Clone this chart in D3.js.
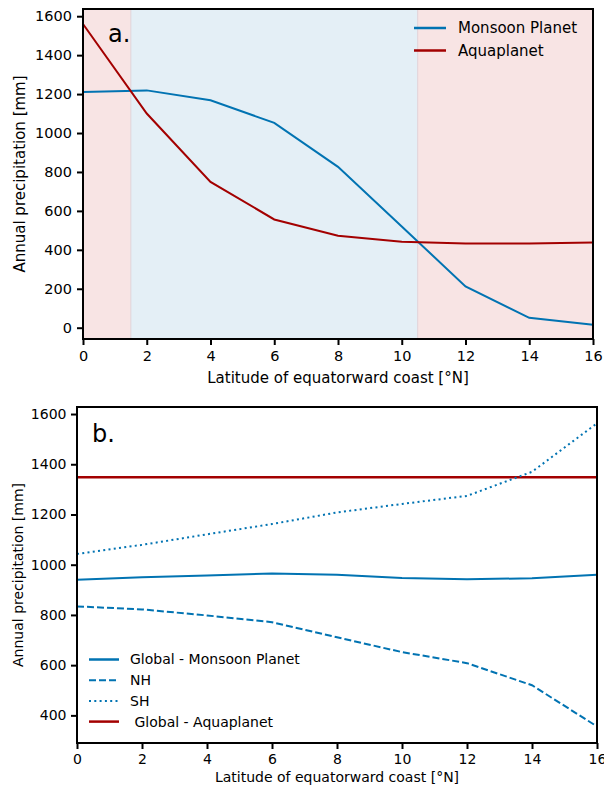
<!DOCTYPE html>
<html>
<head>
<meta charset="utf-8">
<script src="https://cdn.jsdelivr.net/npm/d3@7"></script>
<style>
  html, body { margin: 0; padding: 0; background: #fff; }
  svg { display: block; font-family: "DejaVu Sans", sans-serif; }
</style>
</head>
<body>
<svg id="chart" width="604" height="788"></svg>
<script>
// Latitude of the equatorward coast [°N]
const latitude = [0, 2, 4, 6, 8, 10, 12, 14, 16];
const xTicks = [0, 2, 4, 6, 8, 10, 12, 14, 16];

// Panel a: regional annual precipitation [mm]
const monsoonRegional = [1211, 1219, 1168, 1052, 826, 520, 212, 51, 15];
const aquaRegional = [1560, 1100, 749, 556, 472, 442, 433, 433, 438];
const yTicksA = [0, 200, 400, 600, 800, 1000, 1200, 1400, 1600];
// Shaded latitude bands
const landBand = [1.5, 10.5];

// Panel b: global and hemispheric annual precipitation [mm]
const monsoonGlobal = [940, 950, 957, 965, 960, 947, 942, 946, 960];
const monsoonNH = [834, 822, 798, 771, 711, 652, 608, 520, 356];
const monsoonSH = [1043, 1079, 1121, 1162, 1208, 1242, 1274, 1370, 1563];
const aquaGlobal = [1348, 1348, 1348, 1348, 1348, 1348, 1348, 1348, 1348];
const yTicksB = [400, 600, 800, 1000, 1200, 1400, 1600];

const BLUE = "#0173b2";
const RED = "#a30000";
const BLUE_SHADE = "#e4eff6";
const RED_SHADE = "#f8e4e4";

const svg = d3.select("#chart");

function drawAxes(g, x, y, yTicks, o) {
  const xAxis = g.append("g")
    .attr("transform", `translate(0,${o.H})`)
    .call(d3.axisBottom(x).tickValues(xTicks).tickFormat(d3.format("d")).tickSize(6).tickPadding(o.xPad));
  const yAxis = g.append("g")
    .call(d3.axisLeft(y).tickValues(yTicks).tickFormat(d3.format("d")).tickSize(6).tickPadding(o.yPad));
  [xAxis, yAxis].forEach(a => {
    a.selectAll(".domain").remove();
    a.selectAll(".tick line").attr("stroke", "#000").attr("stroke-width", 2);
    a.selectAll(".tick text").attr("font-size", o.tickFont).attr("fill", "#000")
      .attr("font-family", "DejaVu Sans, sans-serif");
  });
  // Frame
  g.append("rect").attr("x", 0).attr("y", 0).attr("width", o.W).attr("height", o.H)
    .attr("fill", "none").attr("stroke", "#000").attr("stroke-width", 2);
  g.append("text")
    .attr("x", o.W / 2).attr("y", o.H + o.xLabelOff)
    .attr("text-anchor", "middle").attr("font-size", o.labelFont)
    .text("Latitude of equatorward coast [°N]");
  g.append("text")
    .attr("transform", `translate(${o.yLabelX},${o.H / 2}) rotate(-90)`)
    .attr("text-anchor", "middle").attr("font-size", o.labelFont)
    .text("Annual precipitation [mm]");
}

function legend(g, items, x0, y0, dy, lineLen, gap, fs) {
  items.forEach((it, i) => {
    const yy = y0 + i * dy;
    g.append("line").attr("x1", x0).attr("x2", x0 + lineLen).attr("y1", yy).attr("y2", yy)
      .attr("stroke", it.color).attr("stroke-width", it.width)
      .attr("stroke-dasharray", it.dash || null);
    g.append("text").attr("x", x0 + lineLen + gap).attr("y", yy).attr("dy", "0.35em")
      .attr("font-size", fs).attr("xml:space", "preserve").text(it.label);
  });
}

// ---------- Panel a ----------
{
  const left = 83, top = 9, right = 593, bottom = 339;
  const W = right - left, H = bottom - top;
  const g = svg.append("g").attr("transform", `translate(${left},${top})`);
  const x = d3.scaleLinear().domain([0, 16]).range([0, W]);
  const y = d3.scaleLinear().domain([-58, 1637]).range([H, 0]);

  // Latitude bands
  g.append("rect").attr("x", x(0)).attr("y", 0).attr("width", x(landBand[0]) - x(0)).attr("height", H).attr("fill", RED_SHADE);
  g.append("rect").attr("x", x(landBand[0])).attr("y", 0).attr("width", x(landBand[1]) - x(landBand[0])).attr("height", H).attr("fill", BLUE_SHADE);
  g.append("rect").attr("x", x(landBand[1])).attr("y", 0).attr("width", x(16) - x(landBand[1])).attr("height", H).attr("fill", RED_SHADE);
  landBand.forEach(v => {
    g.append("line").attr("x1", x(v)).attr("x2", x(v)).attr("y1", 0).attr("y2", H)
      .attr("stroke", "#e0d2d8").attr("stroke-width", 1);
  });

  const line = d3.line().x((d, i) => x(latitude[i])).y(d => y(d));
  g.append("path").datum(monsoonRegional).attr("d", line).attr("fill", "none").attr("stroke", BLUE).attr("stroke-width", 2);
  g.append("path").datum(aquaRegional).attr("d", line).attr("fill", "none").attr("stroke", RED).attr("stroke-width", 2);

  drawAxes(g, x, y, yTicksA, {
    W, H, tickFont: 14.5, labelFont: 15, xPad: 6, yPad: 5, xLabelOff: 44, yLabelX: -58
  });

  g.append("text").attr("x", 25).attr("y", 33).attr("font-size", 24).text("a.");

  legend(g, [
    { label: "Monsoon Planet", color: BLUE, width: 2.5 },
    { label: "Aquaplanet", color: RED, width: 2.5 }
  ], 414 - left, 28 - top, 22.5, 32, 12, 15);
}

// ---------- Panel b ----------
{
  const left = 77, top = 407, right = 597, bottom = 743;
  const W = right - left, H = bottom - top;
  const g = svg.append("g").attr("transform", `translate(${left},${top})`);
  const x = d3.scaleLinear().domain([0, 16]).range([0, W]);
  const y = d3.scaleLinear().domain([290, 1628]).range([H, 0]);

  const line = d3.line().x((d, i) => x(latitude[i])).y(d => y(d));
  g.append("path").datum(aquaGlobal).attr("d", line).attr("fill", "none").attr("stroke", RED).attr("stroke-width", 2.5);
  g.append("path").datum(monsoonGlobal).attr("d", line).attr("fill", "none").attr("stroke", BLUE).attr("stroke-width", 2);
  g.append("path").datum(monsoonNH).attr("d", line).attr("fill", "none").attr("stroke", BLUE).attr("stroke-width", 2).attr("stroke-dasharray", "7,3");
  g.append("path").datum(monsoonSH).attr("d", line).attr("fill", "none").attr("stroke", BLUE).attr("stroke-width", 2).attr("stroke-dasharray", "2,3.3");

  drawAxes(g, x, y, yTicksB, {
    W, H, tickFont: 14, labelFont: 14, xPad: 5, yPad: 4.5, xLabelOff: 39, yLabelX: -54
  });

  g.append("text").attr("x", 15).attr("y", 35).attr("font-size", 24).text("b.");

  legend(g, [
    { label: "Global - Monsoon Planet", color: BLUE, width: 2.5 },
    { label: "NH", color: BLUE, width: 2, dash: "7,3" },
    { label: "SH", color: BLUE, width: 2, dash: "2,3.3" },
    { label: " Global - Aquaplanet", color: RED, width: 2.5 }
  ], 89 - left, 659.5 - top, 20.7, 30, 11, 14);
}
</script>
</body>
</html>
